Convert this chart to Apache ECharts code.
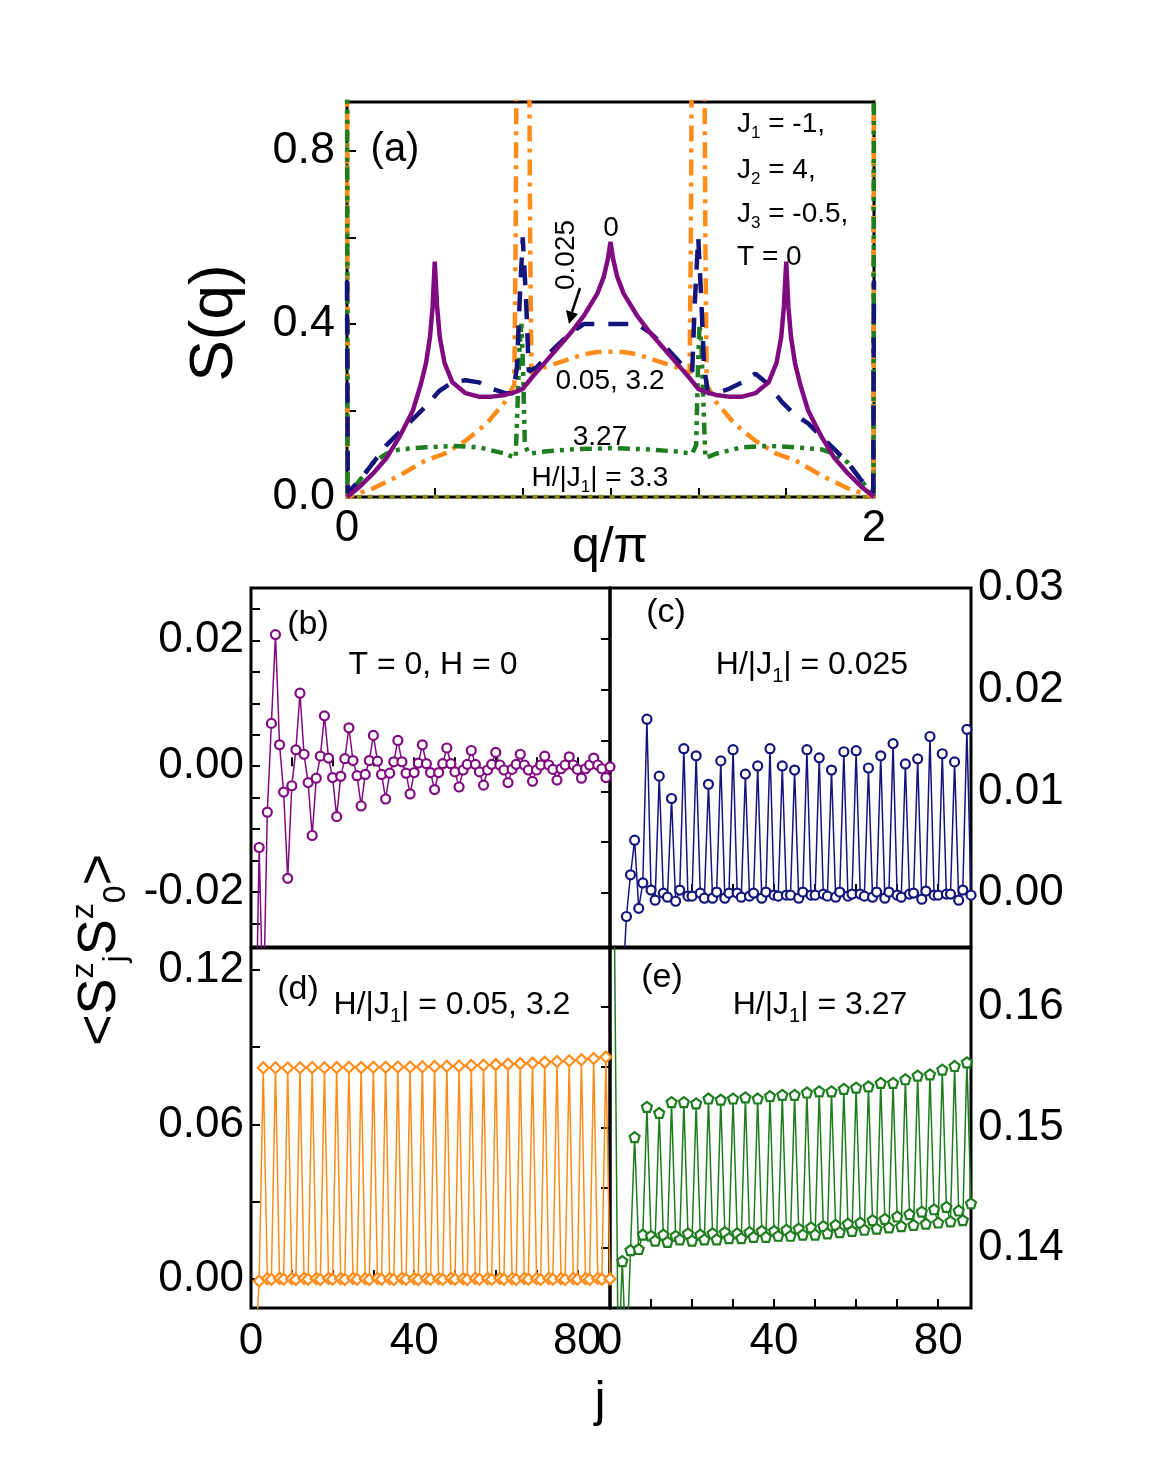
<!DOCTYPE html>
<html><head><meta charset="utf-8">
<script src="https://cdn.jsdelivr.net/npm/echarts@6/dist/echarts.min.js"></script>
<style>html,body{margin:0;padding:0;background:#fff}#c{width:1165px;height:1473px}</style>
</head><body><div id="c"></div>
<script>
// ---------- Panel (a): S(q) vs q/pi ----------
const qH0=[0,0.05,0.1,0.15,0.2,0.25,0.28,0.3,0.315,0.325,0.333,0.342,0.352,0.37,0.4,0.45,0.5,0.55,0.6,0.64,0.667,0.7,0.75,0.8,0.85,0.9,0.95,0.975,0.99,1.0,1.01,1.025,1.05,1.1,1.15,1.2,1.25,1.3,1.333,1.36,1.4,1.45,1.5,1.55,1.6,1.63,1.648,1.658,1.667,1.675,1.685,1.7,1.72,1.75,1.8,1.85,1.9,1.95,2.0];
const sH0=[0,0.025,0.055,0.09,0.14,0.2,0.26,0.31,0.37,0.44,0.544,0.44,0.37,0.31,0.265,0.24,0.232,0.232,0.236,0.243,0.25,0.275,0.31,0.345,0.38,0.42,0.47,0.51,0.55,0.59,0.55,0.51,0.47,0.42,0.38,0.345,0.31,0.275,0.25,0.243,0.236,0.232,0.232,0.24,0.265,0.31,0.37,0.44,0.544,0.44,0.37,0.31,0.26,0.2,0.14,0.09,0.055,0.025,0];
const qH1=[0,0.003,0.05,0.1,0.15,0.2,0.25,0.3,0.35,0.4,0.45,0.5,0.55,0.6,0.63,0.645,0.655,0.667,0.68,0.69,0.72,0.78,0.85,0.9,1.0,1.1,1.15,1.22,1.28,1.31,1.32,1.333,1.345,1.355,1.37,1.4,1.45,1.5,1.55,1.6,1.65,1.7,1.75,1.8,1.85,1.9,1.95,1.997,2.0];
const sH1=[0.5,0.01,0.04,0.08,0.12,0.15,0.18,0.21,0.245,0.265,0.27,0.265,0.25,0.24,0.24,0.3,0.45,0.6,0.45,0.29,0.3,0.34,0.38,0.4,0.4,0.4,0.38,0.34,0.3,0.29,0.45,0.6,0.45,0.3,0.24,0.24,0.25,0.265,0.285,0.26,0.22,0.19,0.17,0.14,0.11,0.08,0.04,0.01,0.5];
const qH2=[0,0.002,0.05,0.1,0.2,0.3,0.37,0.45,0.53,0.6,0.635,0.64,0.645,0.69,0.695,0.7,0.75,0.8,0.85,0.9,0.95,1.0,1.05,1.1,1.15,1.2,1.25,1.3,1.305,1.31,1.355,1.36,1.365,1.4,1.47,1.55,1.63,1.7,1.8,1.9,1.95,1.998,2.0];
const sH2=[1.2,0,0.01,0.02,0.05,0.085,0.1,0.13,0.17,0.22,0.26,0.6,1.2,1.2,0.6,0.285,0.3,0.31,0.32,0.33,0.335,0.336,0.335,0.33,0.32,0.31,0.3,0.285,0.6,1.2,1.2,0.6,0.26,0.22,0.17,0.13,0.1,0.085,0.05,0.02,0.01,0,1.2];
const qH3=[0,0.002,0.05,0.1,0.15,0.2,0.3,0.4,0.5,0.6,0.64,0.655,0.662,0.668,0.675,0.69,0.75,0.85,1.0,1.15,1.25,1.31,1.325,1.332,1.338,1.345,1.36,1.4,1.5,1.6,1.7,1.8,1.85,1.9,1.95,1.998,2.0];
const sH3=[1.2,0,0.04,0.08,0.1,0.11,0.115,0.118,0.115,0.1,0.09,0.35,0.4,0.3,0.12,0.1,0.105,0.11,0.113,0.11,0.105,0.1,0.12,0.3,0.4,0.35,0.09,0.1,0.115,0.118,0.115,0.11,0.1,0.08,0.04,0,1.2];
const qH4=[0,0.003,1.0,1.997,2.0];
const sH4=[1.2,0,0,0,1.2];

// ---------- Panels (b)-(e): <Sz_j Sz_0> vs j ----------
const jB=[1,2,3,4,5,6,7,8,9,10,11,12,13,14,15,16,17,18,19,20,21,22,23,24,25,26,27,28,29,30,31,32,33,34,35,36,37,38,39,40,41,42,43,44,45,46,47,48,49,50,51,52,53,54,55,56,57,58,59,60,61,62,63,64,65,66,67,68,69,70,71,72,73,74,75,76,77,78,79,80,81,82,83,84,85,86,87,88];
const corrB=[-0.05,-0.0129,-0.04,-0.0073,0.0068,0.0209,0.0034,-0.0041,-0.0178,-0.0031,0.0026,0.0116,0.0019,-0.0026,-0.011,-0.0019,0.0016,0.008,0.0013,-0.0018,-0.008,-0.0016,0.0012,0.0061,0.0009,-0.0015,-0.0063,-0.0013,0.0009,0.0049,0.0008,-0.0013,-0.0052,-0.0011,0.0007,0.0041,0.0007,-0.0011,-0.0044,-0.001,0.0005,0.0034,0.0004,-0.001,-0.0037,-0.001,0.0004,0.0029,0.0004,-0.0009,-0.0033,-0.0006,0.0003,0.0025,0.0003,-0.0009,-0.003,-0.0006,0.0003,0.0022,0.0002,-0.0006,-0.0026,-0.0005,0.0003,0.0019,0.0002,-0.0006,-0.0024,-0.0006,0.0002,0.0016,0.0002,-0.0005,-0.0022,-0.0004,0.0002,0.0015,0.0002,-0.0005,-0.0019,-0.0004,0.0002,0.0013,0.0002,-0.0004,-0.0018,-0.0001];
const jC=[3,4,5,6,7,8,9,10,11,12,13,14,15,16,17,18,19,20,21,22,23,24,25,26,27,28,29,30,31,32,33,34,35,36,37,38,39,40,41,42,43,44,45,46,47,48,49,50,51,52,53,54,55,56,57,58,59,60,61,62,63,64,65,66,67,68,69,70,71,72,73,74,75,76,77,78,79,80,81,82,83,84,85,86,87,88];
const corrC=[-0.01,-0.0023,0.0018,0.0052,-0.0015,0.001,0.0171,0.0003,-0.0007,0.0115,0,-0.0004,0.0093,-0.0008,0.0003,0.0142,-0.0003,-0.0003,0.0135,0,-0.0005,0.0107,-0.0005,0.0001,0.013,-0.0005,0,0.0141,0,-0.0004,0.0117,-0.0003,0,0.0125,-0.0005,0.0001,0.0142,-0.0002,-0.0003,0.0125,-0.0002,-0.0002,0.0121,-0.0005,0.0001,0.0141,-0.0002,-0.0002,0.0133,-0.0001,-0.0003,0.0121,-0.0004,0.0001,0.0139,-0.0003,-0.0001,0.014,-0.0001,-0.0003,0.0123,-0.0004,0.0001,0.0135,-0.0005,0.0001,0.0147,-0.0002,-0.0004,0.0127,-0.0001,0,0.0132,-0.0006,0.0002,0.0154,-0.0002,-0.0002,0.0137,-0.0001,-0.0001,0.0129,-0.0007,0.0003,0.0161,-0.0002];
const jD=jB;
const corrD=[-0.03,-0.0008,0.0820,
0.0001,-0.0002,0.0820, 0.0002,-0.0001,0.0819, 0.0001,-0.0002,0.0820, 0.0002,-0.0001,0.0821,
0.0001,-0.0002,0.0820, 0.0002,-0.0001,0.0821, 0.0001,-0.0002,0.0822, 0.0002,-0.0001,0.0821,
0.0001,-0.0002,0.0822, 0.0002,-0.0001,0.0822, 0.0001,-0.0002,0.0823, 0.0002,-0.0001,0.0823,
0.0001,-0.0002,0.0824, 0.0002,-0.0001,0.0825, 0.0001,-0.0002,0.0826, 0.0002,-0.0001,0.0827,
0.0001,-0.0002,0.0829, 0.0002,-0.0001,0.0830, 0.0001,-0.0002,0.0832, 0.0002,-0.0001,0.0834,
0.0001,-0.0002,0.0836, 0.0002,-0.0001,0.0838, 0.0001,-0.0002,0.0841, 0.0002,-0.0001,0.0844,
0.0001,-0.0002,0.0847, 0.0002,-0.0001,0.0851, 0.0001,-0.0002,0.0856, 0.0002,-0.0001,0.0862,
0.0];
const jE=jB;
const corrE=[0.17,0.13,0.1389,0.13,0.1398,0.1492,
0.1399,0.1411,0.1517, 0.1410,0.1406,0.1512, 0.1411,0.1405,0.1521, 0.1410,0.1407,0.1521,
0.1412,0.1406,0.1520, 0.1411,0.1407,0.1524, 0.1412,0.1407,0.1523, 0.1413,0.1408,0.1524,
0.1412,0.1408,0.1525, 0.1413,0.1409,0.1524, 0.1414,0.1409,0.1526, 0.1414,0.1410,0.1527,
0.1415,0.1410,0.1527, 0.1416,0.1411,0.1529, 0.1417,0.1411,0.1530, 0.1418,0.1412,0.1530,
0.1419,0.1413,0.1532, 0.1420,0.1414,0.1533, 0.1421,0.1415,0.1534, 0.1423,0.1416,0.1537,
0.1424,0.1417,0.1537, 0.1426,0.1418,0.1540, 0.1428,0.1419,0.1543, 0.1430,0.1420,0.1544,
0.1432,0.1421,0.1548, 0.1434,0.1422,0.1551, 0.1431,0.1423,0.1554,
0.1437];

const FONT='Liberation Sans';
const pairs=(x,y)=>x.map((v,i)=>[v,y[i]]);
const chart=echarts.init(document.getElementById('c'),null,{renderer:'canvas'});

const tickStyle={show:true,inside:true,length:9,lineStyle:{color:'#000',width:2}};
const lbl=(vals,fmt,size,extra)=>Object.assign({show:true,customValues:vals,formatter:fmt,color:'#000',fontFamily:FONT,fontSize:size},extra||{});
function gridOf(l,t,w,h){return {left:l,top:t,width:w,height:h,show:true,borderColor:'#000',borderWidth:3,backgroundColor:'transparent',containLabel:false};}

const xAxes=[
 {gridIndex:0,type:'value',min:0,max:2,axisLine:{show:false},splitLine:{show:false},
  axisTick:Object.assign({customValues:[1/3,2/3,1,4/3,5/3]},tickStyle),
  axisLabel:lbl([0,2],v=>String(Math.round(v)),44,{margin:10})},
];
const yAxes=[
 {gridIndex:0,type:'value',min:0,max:0.913,axisLine:{show:false},splitLine:{show:false},
  axisTick:Object.assign({customValues:[0.2,0.4,0.6,0.8]},tickStyle),
  axisLabel:lbl([0,0.4,0.8],v=>v.toFixed(1),45,{margin:12})},
];
const jTicks=[10,20,30,40,50,60,70,80];
function jx(gi,showLbl){return {gridIndex:gi,type:'value',min:0,max:88,axisLine:{show:false},splitLine:{show:false},
  axisTick:Object.assign({customValues:jTicks},tickStyle),
  axisLabel:showLbl?lbl([0,40,80],v=>String(v),44,{margin:12}):{show:false}};}
function jy(gi,min,max,ticks,labels,dec,pos){return {gridIndex:gi,type:'value',min:min,max:max,position:pos,axisLine:{show:false},splitLine:{show:false},
  axisTick:Object.assign({customValues:ticks},tickStyle),
  axisLabel:lbl(labels,v=>v.toFixed(dec),44,{margin:7})};}
xAxes.push(jx(1,false),jx(2,false),jx(3,true),jx(4,true));
yAxes.push(
 jy(1,-0.0287,0.0283,[-0.025,-0.02,-0.015,-0.01,-0.005,0,0.005,0.01,0.015,0.02,0.025],[-0.02,0,0.02],2,'left'),
 jy(2,-0.0053,0.0300,[0,0.005,0.01,0.015,0.02,0.025],[0,0.01,0.02,0.03],2,'right'),
 jy(3,-0.0113,0.1285,[0,0.03,0.06,0.09,0.12],[0,0.06,0.12],2,'left'),
 jy(4,0.1350,0.1649,[0.14,0.145,0.15,0.155,0.16],[0.14,0.15,0.16],2,'right'));

const PENT='path://M0,-10 L9.5,-3.1 L5.9,8.1 L-5.9,8.1 L-9.5,-3.1 Z';
function curve(x,y,color,dash,z){return {type:'line',xAxisIndex:0,yAxisIndex:0,data:pairs(x,y),showSymbol:false,symbol:'none',clip:true,z:z,
  lineStyle:{color:color,width:4.5,type:dash,cap:'butt'},animation:false};}
function pts(gi,x,y,color,sym,size){return {type:'line',xAxisIndex:gi,yAxisIndex:gi,data:pairs(x,y),clip:true,symbol:sym,symbolSize:size,showAllSymbol:true,
  lineStyle:{color:color,width:1.5},itemStyle:{color:'#fff',borderColor:color,borderWidth:2.2},animation:false};}

const C_P='#800a80',C_B='#14147d',C_O='#ff8c1a',C_G='#1e7d1e',C_OL='#8c8c1e';
const series=[
 curve(qH4,sH4,C_OL,[5,6],2),
 curve(qH2,sH2,C_O,[16,7,4,7],3),
 curve(qH3,sH3,C_G,[12,6,4,6,4,6],4),
 curve(qH1,sH1,C_B,[20,14],5),
 curve(qH0,sH0,C_P,'solid',6),
 pts(1,jB,corrB,C_P,'circle',9),
 pts(2,jC,corrC,C_B,'circle',9),
 pts(3,jD,corrD,C_O,'diamond',11),
 pts(4,jE,corrE,C_G,PENT,10),
];

function T(x,y,text,size,opts){return Object.assign({type:'text',x:x,y:y,style:Object.assign({text:text,fontFamily:FONT,fontSize:size,fill:'#000',align:'center',verticalAlign:'middle'},opts||{})},{z:100});}
function RT(x,y,text,size,align){return {type:'text',x:x,y:y,z:100,style:{text:text,fontFamily:FONT,fontSize:size,fill:'#000',align:align||'center',verticalAlign:'middle',
  rich:{s:{fontFamily:FONT,fontSize:Math.round(size*0.62),verticalAlign:'bottom',lineHeight:Math.round(size*1.3),padding:[Math.round(size*0.5),0,0,0]},n:{fontSize:size,fontFamily:FONT,lineHeight:Math.round(size*1.3)}}}};}

const graphics=[
 T(395,150,'(a)',40),
 T(611,228,'0',28),
 {type:'text',x:566,y:255,rotation:Math.PI/2,z:100,style:{text:'0.025',fontFamily:FONT,fontSize:28,fill:'#000',align:'center',verticalAlign:'middle'}},
 {type:'line',z:100,shape:{x1:580,y1:288,x2:572,y2:312},style:{stroke:'#000',lineWidth:2.5}},
 {type:'polygon',z:100,shape:{points:[[566,310],[578,314],[569,324]]},style:{fill:'#000'}},
 T(610,381,'0.05, 3.2',28),
 T(600,437,'3.27',28),
 RT(600,478,'{n|H/|J}{s|1}{n|| = 3.3}',28),
 RT(737,124,'{n|J}{s|1}{n| = -1,}',28,'left'),
 RT(737,170,'{n|J}{s|2}{n| = 4,}',28,'left'),
 RT(737,214,'{n|J}{s|3}{n| = -0.5,}',28,'left'),
 T(737,257,'T = 0',28,{align:'left'}),
 {type:'text',x:215,y:323,rotation:Math.PI/2,z:100,style:{text:'S(q)',fontFamily:FONT,fontSize:62,fill:'#000',align:'center',verticalAlign:'middle'}},
 T(610,548,'q/π',50),
 T(308,625,'(b)',34),
 T(433,665,'T = 0, H = 0',32),
 T(666,613,'(c)',34),
 RT(812,665,'{n|H/|J}{s|1}{n|| = 0.025}',32),
 T(298,990,'(d)',34),
 RT(452,1005,'{n|H/|J}{s|1}{n|| = 0.05, 3.2}',32),
 T(662,978,'(e)',34),
 RT(820,1005,'{n|H/|J}{s|1}{n|| = 3.27}',32),
 T(600,1402,'j',50),
 {type:'text',x:100,y:950,rotation:Math.PI/2,z:100,style:{text:'{n|<S}{u|z}{d|j}{n|S}{u|z}{d|0}{n|>}',fontFamily:FONT,fontSize:54,fill:'#000',align:'center',verticalAlign:'middle',
   rich:{n:{fontSize:54,fontFamily:FONT,lineHeight:64},u:{fontSize:32,fontFamily:FONT,verticalAlign:'top',lineHeight:64,padding:[0,0,24,0]},d:{fontSize:32,fontFamily:FONT,verticalAlign:'bottom',lineHeight:64,padding:[24,0,0,0]}}}},
];

chart.setOption({
 animation:false,
 backgroundColor:'#fff',
 grid:[gridOf(347,102,527,395),gridOf(251,588,359,359),gridOf(610,588,361,359),gridOf(251,948,359,360),gridOf(610,948,361,360)],
 xAxis:xAxes, yAxis:yAxes, series:series, graphic:graphics
});
</script></body></html>
